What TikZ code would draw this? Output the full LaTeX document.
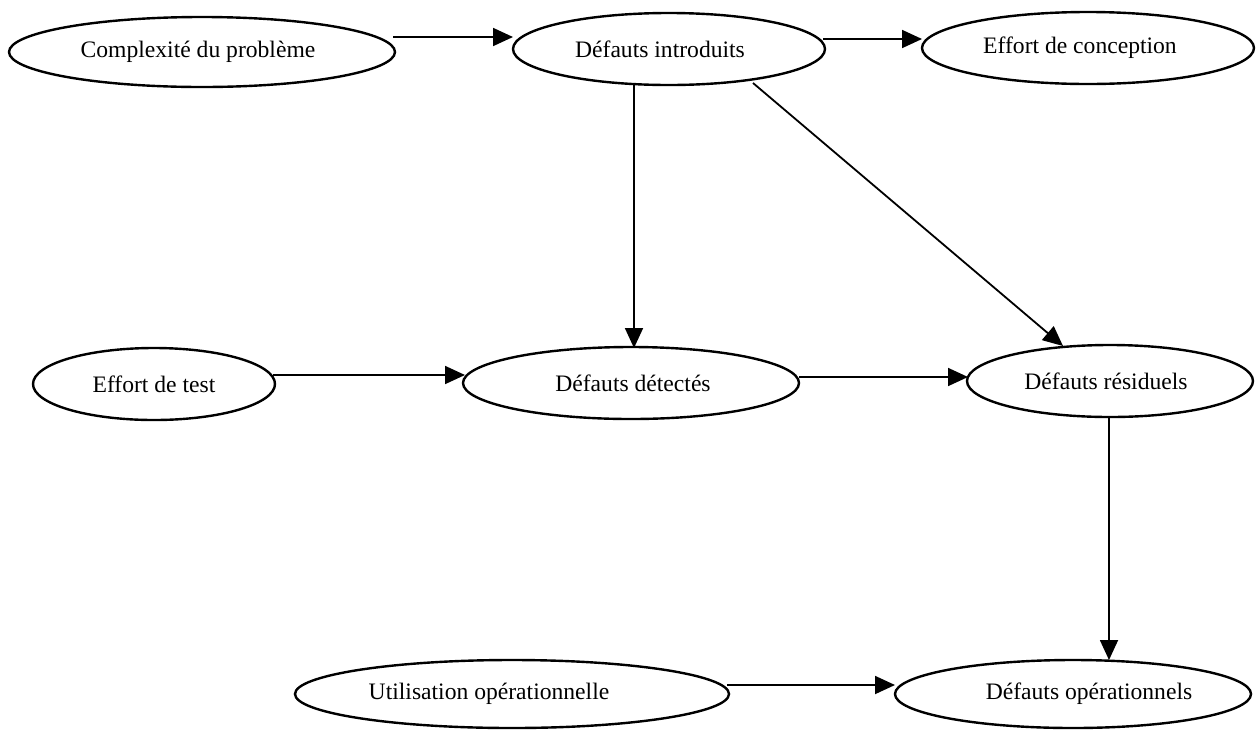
\documentclass[tikz,border=0pt]{standalone}
\usepackage{fontspec}
\setmainfont{Liberation Serif}
\usetikzlibrary{shapes.geometric,arrows.meta}
\begin{document}
\begin{tikzpicture}[x=0.5pt,y=-0.5pt,
  oval/.style={draw, ellipse, line width=1.2pt, inner sep=0pt},
  lbl/.style={font=\fontsize{11.8}{14}\selectfont, inner sep=0pt},
  link/.style={-{Triangle[length=10pt,width=9pt]}, line width=0.9pt}]
\useasboundingbox (0,0) rectangle (1258,729);

% variables of the defect model
\node[oval, minimum width=193pt, minimum height=35pt,
      label={[lbl,xshift=-2pt]center:Complexité du problème}] (cp) at (202,52) {};
\node[oval, minimum width=156pt, minimum height=36pt,
      label={[lbl,xshift=-4.5pt]center:Défauts introduits}] (di) at (669,49) {};
\node[oval, minimum width=166pt, minimum height=36pt,
      label={[lbl,xshift=-4pt]center:Effort de conception}] (ec) at (1088,48) {};
\node[oval, minimum width=121pt, minimum height=36pt,
      label={[lbl]center:Effort de test}] (et) at (154,384) {};
\node[oval, minimum width=168pt, minimum height=36pt,
      label={[lbl,xshift=1pt]center:Défauts détectés}] (dd) at (631,383) {};
\node[oval, minimum width=143pt, minimum height=36pt,
      label={[lbl,xshift=-2pt]center:Défauts résiduels}] (dr) at (1110,381) {};
\node[oval, minimum width=217pt, minimum height=34pt,
      label={[lbl,xshift=-11.5pt]center:Utilisation opérationnelle}] (uo) at (512,694) {};
\node[oval, minimum width=178pt, minimum height=34pt,
      label={[lbl,xshift=8pt]center:Défauts opérationnels}] (do) at (1073,694) {};

% influences between variables
\draw[link] ([shift={(191,-15)}]cp.center) -- ([shift={(-156,-12)}]di.center);
\draw[link] ([shift={(154,-10)}]di.center) -- ([shift={(-166,-9)}]ec.center);
\draw[link] ([shift={(-35,35)}]di.center) -- ([shift={(3,-35)}]dd.center);
\draw[link] ([shift={(84,34)}]di.center) -- ([shift={(-47,-35)}]dr.center);
\draw[link] ([shift={(119,-9)}]et.center) -- ([shift={(-166,-8)}]dd.center);
\draw[link] ([shift={(168,-6)}]dd.center) -- ([shift={(-142,-4)}]dr.center);
\draw[link] ([shift={(-1,36)}]dr.center) -- ([shift={(36,-34)}]do.center);
\draw[link] ([shift={(215,-9)}]uo.center) -- ([shift={(-178,-9)}]do.center);
\end{tikzpicture}
\end{document}
